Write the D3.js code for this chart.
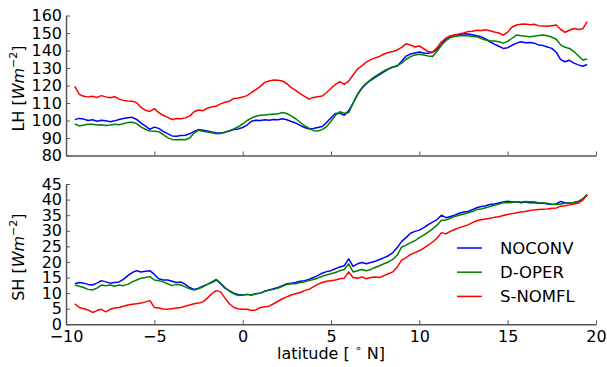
<!DOCTYPE html>
<html>
<head>
<meta charset="utf-8">
<script src="https://cdn.jsdelivr.net/npm/d3@7"></script>
<style>
  html, body { margin: 0; padding: 0; background: #fff; }
  svg { display: block; font-family: "DejaVu Sans", sans-serif; }
</style>
</head>
<body>
<svg id="chart" width="607" height="367"></svg>
<script>
// Latitude grid (degrees N)
const lat = [
  -9.5,-9.25,-9,-8.75,-8.5,-8.25,-8,-7.75,-7.5,-7.25,-7,-6.75,-6.5,-6.25,-6,-5.75,-5.5,-5.25,-5,-4.75,
  -4.5,-4.25,-4,-3.75,-3.5,-3.25,-3,-2.75,-2.5,-2.25,-2,-1.75,-1.5,-1.25,-1,-0.75,-0.5,-0.25,0,0.25,
  0.5,0.75,1,1.25,1.5,1.75,2,2.25,2.5,2.75,3,3.25,3.5,3.75,4,4.25,4.5,4.75,5,5.25,
  5.5,5.75,6,6.25,6.5,6.75,7,7.25,7.5,7.75,8,8.25,8.5,8.75,9,9.25,9.5,9.75,10,10.25,
  10.5,10.75,11,11.25,11.5,11.75,12,12.25,12.5,12.75,13,13.25,13.5,13.75,14,14.25,14.5,14.75,15,15.25,
  15.5,15.75,16,16.25,16.5,16.75,17,17.25,17.5,17.75,18,18.25,18.5,18.75,19,19.25,19.5
];

const seriesNames = ["NOCONV", "D-OPER", "S-NOMFL"];
const seriesColors = ["#0000ff", "#008000", "#ff0000"];

// Latent heat flux (W m-2)
const lhNoconv = [
  100.5,101.2,100.8,100.0,100.4,99.6,100.2,99.8,99.3,99.8,100.6,101.2,101.6,101.8,100.6,98.5,96.8,95.0,96.2,95.5,
  93.8,92.5,91.2,91.0,91.4,91.6,92.4,93.8,94.8,94.4,94.0,93.4,93.0,92.8,93.2,94.0,94.8,95.2,96.0,97.4,
  99.6,100.2,100.0,100.4,100.2,100.6,100.4,101.0,100.4,99.4,98.6,97.2,96.0,95.2,95.4,96.0,96.6,98.8,101.6,104.0,
  104.2,103.0,105.5,110.0,115.0,118.4,121.0,123.0,124.6,126.2,127.8,129.4,130.6,131.2,133.8,136.8,138.0,138.6,139.2,138.6,
  138.4,139.0,140.6,143.4,146.5,148.2,148.8,149.0,149.6,149.4,149.0,148.4,147.8,146.6,145.0,143.6,142.4,141.2,141.6,143.0,
  144.2,145.0,144.4,144.6,144.2,143.2,142.8,142.0,141.2,139.0,134.8,133.6,134.4,132.8,131.8,131.0,132.0
];
const lhDoper = [
  98.0,96.9,97.4,97.8,97.8,97.4,97.6,97.2,97.4,97.8,97.6,98.2,98.8,99.0,98.2,96.2,95.0,94.0,93.8,93.6,
  92.0,90.2,89.2,89.0,89.2,89.0,90.0,92.8,94.4,93.8,93.4,93.0,92.4,92.6,93.4,94.2,95.2,96.4,98.0,100.0,
  101.4,102.4,103.0,103.2,103.4,103.6,103.8,104.6,104.0,102.6,101.0,99.0,97.0,95.6,94.2,94.0,94.8,96.5,99.6,103.0,
  105.0,104.2,104.5,109.8,114.6,118.8,121.4,123.4,125.2,126.8,128.4,129.6,130.4,131.4,132.8,135.0,136.5,137.4,137.8,137.4,
  136.8,136.6,139.6,143.0,145.6,147.4,148.0,148.4,148.6,148.4,148.0,147.8,146.8,146.0,145.6,145.4,145.0,144.2,145.2,147.0,
  148.8,148.4,148.2,147.8,148.2,148.6,148.9,148.4,147.6,146.4,143.2,141.8,141.2,139.4,137.0,134.6,135.2
];
const lhSnomfl = [
  119.5,115.0,113.8,113.5,113.8,113.2,114.2,113.5,113.0,113.6,112.2,111.5,111.2,111.0,110.2,107.5,105.8,105.2,106.8,104.5,
  103.0,101.8,100.6,101.2,101.0,101.5,102.5,105.0,106.0,105.6,107.0,107.8,108.2,109.5,110.4,111.0,112.6,112.8,113.4,114.2,
  116.0,117.6,119.5,121.8,122.6,123.2,123.0,122.6,121.0,118.8,117.2,115.4,113.8,112.2,113.2,113.6,114.0,116.0,118.4,120.6,
  122.2,120.6,122.5,126.0,129.5,131.2,133.4,134.8,135.8,136.6,138.0,138.9,139.4,140.3,141.8,143.8,143.2,142.0,142.6,141.0,
  139.4,139.0,141.5,145.0,147.0,148.3,148.8,149.4,150.0,150.8,151.0,151.6,151.4,151.8,151.3,150.6,150.0,148.8,150.5,153.4,
  154.6,155.0,155.2,154.7,155.0,154.2,154.0,153.8,154.2,154.6,152.0,150.4,151.6,152.6,152.0,152.4,156.5
];

// Sensible heat flux (W m-2)
const shNoconv = [
  13.0,13.4,13.2,12.8,12.6,13.2,14.0,13.6,13.2,13.4,13.6,14.4,15.6,16.6,17.2,16.8,17.0,17.2,16.0,14.6,
  14.2,14.2,13.8,13.4,13.6,12.8,11.8,11.2,11.6,12.2,12.8,13.4,14.2,13.0,11.6,10.8,10.0,9.6,9.4,9.6,
  9.4,9.8,10.0,10.6,11.0,11.4,11.8,12.4,13.0,13.2,13.4,13.8,14.0,14.4,15.0,15.6,16.4,16.9,17.2,17.8,
  18.4,18.8,21.0,18.6,19.4,19.8,19.4,19.8,20.2,20.8,21.4,22.0,23.0,24.6,26.6,27.8,29.2,29.8,30.2,31.0,
  32.0,32.8,33.6,35.0,34.2,34.6,35.0,35.6,36.0,36.2,36.8,37.4,37.8,38.0,38.4,38.6,38.9,39.2,39.5,39.2,
  39.3,39.0,39.2,39.0,39.0,38.8,38.9,38.6,38.4,38.6,39.4,39.0,38.9,39.1,39.4,40.2,41.6
];
const shDoper = [
  12.6,12.2,11.8,11.2,11.0,11.6,12.6,12.4,12.6,12.2,12.6,12.4,12.8,13.6,14.2,14.8,15.0,15.3,14.2,14.0,
  13.6,13.0,12.4,12.8,12.6,12.0,11.4,11.0,11.4,12.0,12.8,13.6,14.4,13.2,11.8,10.6,9.8,9.2,9.4,9.6,
  9.4,9.8,10.0,10.6,11.0,11.2,11.6,12.2,12.8,13.0,13.0,13.4,13.6,14.0,14.4,14.8,15.4,15.8,16.2,16.6,
  17.2,17.6,19.4,16.8,17.2,17.6,17.2,17.6,18.2,18.8,19.4,20.0,20.8,22.2,24.8,25.4,26.2,26.8,27.8,28.6,
  29.6,30.6,31.8,33.4,33.4,34.0,34.6,35.0,35.4,35.8,36.2,36.8,37.0,37.4,37.8,38.2,38.6,39.0,39.0,39.1,
  39.3,39.2,39.4,39.3,39.3,39.0,38.9,38.8,38.5,38.4,38.6,38.8,38.9,39.1,39.3,40.2,41.6
];
const shSnomfl = [
  6.6,5.4,5.0,4.6,3.8,4.4,4.8,4.0,4.8,5.2,5.4,5.8,6.2,6.4,6.6,6.8,7.2,7.6,5.4,5.2,
  4.9,4.8,5.0,5.2,5.4,5.8,6.2,6.6,6.8,7.2,8.4,9.8,10.8,10.4,8.4,6.6,5.4,5.0,4.8,4.8,
  4.4,4.6,5.4,5.6,5.8,6.6,7.4,8.2,8.8,9.4,9.8,10.2,10.8,11.2,12.0,12.8,13.4,13.8,14.0,14.2,
  14.6,14.8,16.8,15.0,14.8,15.2,14.6,15.0,15.2,15.0,15.6,16.2,16.8,18.4,20.6,21.4,22.4,23.0,23.6,24.4,
  25.4,26.4,27.6,29.4,29.0,29.8,30.4,31.0,31.4,31.9,32.6,33.2,33.5,33.8,34.0,34.3,34.5,34.9,35.2,35.5,
  35.8,36.0,36.2,36.5,36.7,36.8,36.9,37.0,37.2,37.3,37.9,38.0,38.3,38.6,38.9,39.8,41.6
];

// Tick values
const xTicks = [-10, -5, 0, 5, 10, 15, 20];
const lhTicks = [80, 90, 100, 110, 120, 130, 140, 150, 160];
const shTicks = [0, 5, 10, 15, 20, 25, 30, 35, 40, 45];

const svg = d3.select("#chart");
const left = 66, right = 596;
const fontSize = 16;
const spine = "#555";

const x = d3.scaleLinear().domain([-10, 20]).range([left, right]);

const panels = [
  { label: "LH", top: 15.5, bottom: 155.5, domain: [80, 160], ticks: lhTicks,
    series: [lhNoconv, lhDoper, lhSnomfl], xLabels: false },
  { label: "SH", top: 184, bottom: 324.3, domain: [0, 45], ticks: shTicks,
    series: [shNoconv, shDoper, shSnomfl], xLabels: true }
];

const fmt = v => (v < 0 ? "\u2212" + Math.abs(v) : String(v));

panels.forEach(p => {
  const y = d3.scaleLinear().domain(p.domain).range([p.bottom, p.top]);
  const g = svg.append("g");

  // data lines
  const line = d3.line().x((d, i) => x(lat[i])).y(d => y(d));
  p.series.forEach((vals, k) => {
    g.append("path")
      .datum(vals)
      .attr("fill", "none")
      .attr("stroke", seriesColors[k])
      .attr("stroke-width", 1.5)
      .attr("stroke-linejoin", "round")
      .attr("d", line);
  });

  // y axis (ticks drawn inward)
  const ya = g.append("g")
    .attr("transform", `translate(${left},0)`)
    .call(d3.axisLeft(y).tickValues(p.ticks).tickFormat(fmt)
      .tickSizeInner(-4).tickSizeOuter(0).tickPadding(4));
  ya.select(".domain").attr("stroke", spine).attr("stroke-width", 1.5);
  ya.selectAll(".tick line").attr("stroke", spine).attr("stroke-width", 1);
  ya.selectAll(".tick text").attr("font-size", fontSize).attr("fill", "#000")
    .attr("font-family", "DejaVu Sans");

  // x axis
  const xa = g.append("g")
    .attr("transform", `translate(0,${p.bottom})`)
    .call(d3.axisBottom(x).tickValues(xTicks).tickFormat(p.xLabels ? fmt : () => "")
      .tickSizeInner(-4).tickSizeOuter(0).tickPadding(6));
  xa.select(".domain").attr("stroke", spine).attr("stroke-width", 1.5);
  xa.selectAll(".tick line").attr("stroke", spine).attr("stroke-width", 1);
  xa.selectAll(".tick text").attr("font-size", fontSize).attr("fill", "#000")
    .attr("font-family", "DejaVu Sans");

  // y label: "LH [Wm^-2]"
  const cy = (p.top + p.bottom) / 2 + 3;
  const t = svg.append("text")
    .attr("transform", `translate(24,${cy}) rotate(-90)`)
    .attr("text-anchor", "middle")
    .attr("font-size", fontSize)
    .attr("fill", "#000");
  t.append("tspan").text(p.label + " [");
  t.append("tspan").attr("font-style", "italic").text("Wm");
  t.append("tspan").attr("font-size", 11).attr("dy", -7).text("\u22122");
  t.append("tspan").attr("dy", 7).text("]");
});

// x label
const xl = svg.append("text")
  .attr("x", (left + right) / 2)
  .attr("y", 359)
  .attr("text-anchor", "middle")
  .attr("font-size", fontSize)
  .attr("fill", "#000");
xl.append("tspan").text("latitude [ ");
xl.append("tspan").attr("font-size", 11).attr("dy", -7).text("\u2218");
xl.append("tspan").attr("dy", 7).text(" N]");

// legend
const legend = svg.append("g").attr("transform", "translate(457,248)");
seriesNames.forEach((name, k) => {
  const row = legend.append("g").attr("transform", `translate(0,${k * 24.2})`);
  row.append("line").attr("x1", 0).attr("x2", 25).attr("y1", 0).attr("y2", 0)
    .attr("stroke", seriesColors[k]).attr("stroke-width", 1.5);
  row.append("text").attr("x", 43).attr("y", 6).attr("font-size", 16.5)
    .attr("fill", "#000").text(name);
});
</script>
</body>
</html>
